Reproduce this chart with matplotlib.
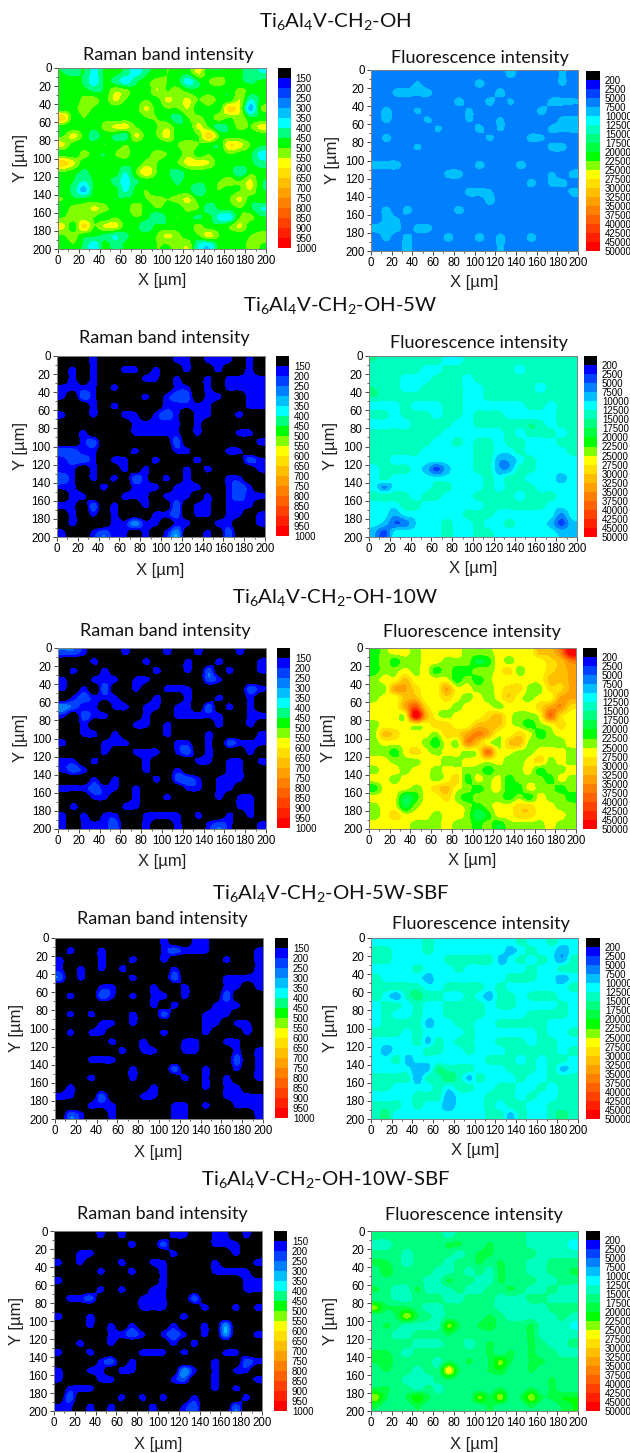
import numpy as np
from matplotlib import pyplot as plt
from matplotlib.colors import ListedColormap, BoundaryNorm

plt.rcParams['font.family'] = ['Liberation Sans', 'DejaVu Sans']
plt.rcParams['mathtext.default'] = 'regular'

# maps on a 10 um grid, rows y=5..195, columns x=5..195
# raman_oh in units of 10 counts, other raman maps are band codes (see raman_codes)
raman_oh = [
    [45,43,45,38,46,47,43,37,44,47,50,48,47,56,47,46,49,46,43,40],
    [47,48,44,37,46,43,37,44,48,52,50,47,37,45,50,54,47,46,44,46],
    [47,49,47,44,46,54,52,46,46,55,50,52,48,46,47,46,46,52,48,46],
    [47,46,52,52,48,56,50,47,50,48,56,53,56,50,54,48,47,55,40,46],
    [47,48,53,49,47,47,46,48,56,48,50,50,55,46,48,47,63,55,33,50],
    [63,47,50,46,48,46,47,46,50,50,47,42,50,52,48,53,50,54,46,46],
    [47,46,48,46,52,56,57,50,47,50,54,47,46,56,50,42,46,52,50,57],
    [50,57,48,43,47,44,42,56,48,50,57,47,47,50,64,50,47,48,46,46],
    [56,47,46,47,50,47,50,47,46,47,47,50,54,50,47,46,60,57,50,46],
    [47,46,52,47,45,50,52,47,48,52,50,47,54,47,50,46,50,48,46,38],
    [64,56,47,46,47,47,47,46,52,50,47,50,57,57,55,47,47,47,46,42],
    [50,47,44,47,46,48,40,50,60,50,46,43,47,48,47,46,47,40,48,47],
    [47,45,40,46,47,43,38,44,47,47,47,44,47,46,47,50,52,50,56,46],
    [47,43,33,47,46,47,39,47,50,46,47,47,47,40,47,50,48,50,55,46],
    [50,46,47,47,47,45,46,47,50,52,50,52,56,48,47,47,50,56,47,48],
    [47,52,52,56,52,47,46,55,47,50,48,47,52,50,42,46,47,50,46,40],
    [50,53,52,50,47,50,47,50,47,40,46,50,47,44,47,38,37,50,52,46],
    [56,47,62,50,56,57,48,47,40,47,46,48,47,52,47,47,50,56,47,47],
    [50,52,47,46,44,40,44,47,48,50,56,52,47,50,57,50,47,46,50,52],
    [46,50,44,37,47,42,46,47,46,50,50,52,54,40,37,47,48,47,52,50],
]
raman_5w = [
    [2,2,2,3,2,2,2,2,2,2,2,3,3,2,3,3,3,2,3,2],
    [2,3,2,3,2,2,3,3,2,3,2,2,3,2,2,3,2,2,3,2],
    [2,3,2,3,2,2,2,2,3,3,2,3,2,2,3,2,3,3,3,3],
    [3,3,3,3,2,3,2,2,2,2,2,3,3,2,3,2,3,3,3,3],
    [3,2,4,3,2,2,2,2,3,2,3,4,4,2,3,3,2,2,3,3],
    [2,2,2,3,2,3,2,2,2,2,3,3,3,3,3,2,2,2,3,3],
    [3,2,2,3,2,2,3,3,2,3,4,3,2,3,3,2,2,3,2,2],
    [2,2,2,2,2,2,2,3,3,3,3,3,2,3,2,2,2,2,2,2],
    [2,2,3,2,2,2,2,3,3,3,3,3,2,3,2,2,2,3,3,2],
    [2,2,3,4,2,2,2,2,2,2,2,4,2,2,2,2,2,2,2,3],
    [4,4,3,3,2,2,2,3,2,2,2,3,3,2,2,2,3,3,2,2],
    [3,4,4,3,2,3,3,2,2,3,2,2,2,3,2,2,2,2,4,3],
    [3,3,2,3,2,2,3,2,3,2,2,2,3,2,3,2,2,2,2,3],
    [4,3,2,3,2,3,2,4,3,2,3,2,3,2,2,2,3,3,2,2],
    [3,3,2,2,3,2,2,3,3,3,2,3,3,3,2,2,3,4,3,2],
    [2,3,3,2,2,2,3,3,3,2,3,3,3,2,3,2,3,4,3,3],
    [3,3,2,4,2,3,2,2,3,2,2,4,2,3,3,2,3,3,3,2],
    [2,3,2,3,2,3,2,2,2,3,3,4,2,3,3,2,3,3,2,3],
    [2,3,2,2,2,3,3,5,3,3,2,3,3,2,2,3,3,2,2,3],
    [3,2,2,3,4,3,3,2,3,2,3,5,2,2,3,2,4,2,2,2],
]
raman_10w = [
    [4,4,3,2,2,2,3,2,2,2,3,2,2,3,2,2,2,3,2,2],
    [2,2,2,3,2,2,2,2,3,2,2,2,3,2,2,3,2,2,2,3],
    [2,3,2,2,3,2,2,2,2,3,2,2,3,2,4,2,3,2,2,3],
    [3,2,2,3,3,3,2,3,3,2,2,2,2,2,4,3,2,2,2,2],
    [3,2,3,2,4,2,2,3,2,2,3,3,3,2,2,2,2,2,4,3],
    [2,3,4,3,3,3,2,2,2,3,2,2,3,2,2,3,2,2,3,2],
    [5,4,3,3,2,3,3,2,3,3,2,3,3,2,4,2,3,2,3,2],
    [3,2,4,3,3,2,2,2,3,2,2,3,3,3,3,3,2,2,3,3],
    [2,2,3,2,2,2,2,3,3,2,3,2,2,2,2,3,2,2,3,2],
    [2,2,3,3,2,3,2,2,2,2,3,2,2,2,3,2,2,2,2,3],
    [3,2,2,2,3,3,3,2,2,2,2,3,3,2,3,2,4,3,3,3],
    [2,2,2,2,3,2,2,3,3,3,2,3,4,2,3,2,2,2,3,2],
    [3,3,2,3,2,2,2,2,3,2,2,2,2,3,3,2,3,3,2,3],
    [3,4,3,2,2,2,2,2,3,2,2,3,2,2,2,2,3,3,2,2],
    [2,2,2,3,2,3,2,2,2,3,2,4,4,3,2,3,3,3,2,2],
    [3,3,3,4,3,3,2,3,2,2,2,2,3,3,2,3,3,2,2,2],
    [2,2,2,3,3,2,2,3,2,2,3,2,2,2,2,3,2,3,3,2],
    [2,3,2,2,2,2,3,3,2,2,2,2,2,2,2,2,2,3,3,2],
    [3,2,3,2,3,3,2,2,3,3,3,3,2,3,2,2,3,2,3,2],
    [3,2,3,3,3,4,2,2,3,2,2,3,2,2,3,4,3,2,2,3],
]
raman_5w_sbf = [
    [2,2,2,2,2,2,2,2,2,2,3,2,2,3,3,2,2,2,2,2],
    [2,3,2,2,3,2,2,2,2,2,3,4,3,3,3,2,2,2,2,3],
    [3,2,2,2,3,2,2,3,2,2,3,2,2,2,2,2,3,2,2,3],
    [3,2,3,2,3,2,3,2,2,2,2,3,2,2,2,2,2,2,2,3],
    [4,2,3,2,2,2,2,3,2,2,2,4,2,2,2,2,3,3,3,3],
    [2,2,2,2,3,3,2,2,2,3,2,2,3,2,2,2,3,3,2,3],
    [2,3,2,2,4,3,2,3,2,3,3,2,3,2,2,2,4,2,2,2],
    [2,2,2,2,2,2,2,2,2,3,2,3,2,2,2,3,3,3,2,2],
    [2,3,2,3,2,2,2,3,2,2,4,2,2,2,3,3,3,2,2,2],
    [2,2,2,2,3,3,2,3,2,2,2,2,2,2,3,3,2,3,3,2],
    [2,3,2,3,3,2,2,2,2,2,3,2,2,2,3,2,2,2,3,2],
    [2,2,2,2,2,3,2,2,3,2,2,2,3,3,2,2,3,3,2,2],
    [2,2,2,2,2,2,3,2,3,3,2,2,3,3,2,2,2,3,2,3],
    [2,2,2,3,3,3,2,2,2,2,2,2,2,2,2,2,2,4,2,3],
    [2,2,2,2,2,2,2,3,2,2,2,4,2,2,3,2,2,3,2,3],
    [2,2,2,3,2,2,2,3,2,2,2,2,3,2,3,2,3,2,2,3],
    [2,3,2,2,2,2,2,2,2,3,2,2,2,2,3,2,3,3,2,2],
    [3,3,2,2,4,2,2,2,3,3,2,2,2,2,2,2,3,3,3,3],
    [2,2,2,3,3,3,2,2,2,2,2,3,3,2,3,2,2,3,3,3],
    [2,4,3,2,2,3,2,2,2,2,2,3,3,2,2,2,2,2,2,3],
]
raman_10w_sbf = [
    [2,2,2,2,3,2,3,2,2,2,2,3,3,2,2,3,3,2,3,2],
    [2,2,2,2,2,2,2,3,2,2,4,2,2,2,2,3,3,3,2,2],
    [2,2,3,3,2,2,2,2,2,2,2,3,2,2,2,2,2,3,2,2],
    [3,2,3,2,2,2,3,2,2,3,3,2,2,2,2,3,2,2,2,3],
    [2,2,2,2,3,2,2,3,2,2,3,2,2,2,2,3,3,3,3,2],
    [3,2,2,2,2,2,2,2,2,2,3,2,2,2,2,2,2,2,3,3],
    [2,2,2,2,3,2,3,2,2,3,3,2,2,2,2,2,2,2,3,3],
    [2,3,3,4,2,2,2,2,3,3,3,2,2,4,2,2,2,2,2,2],
    [2,2,2,2,2,2,2,2,3,3,3,2,2,2,3,2,2,3,2,3],
    [3,2,2,3,2,2,2,2,2,2,2,2,3,2,2,2,2,2,2,2],
    [2,2,2,3,2,3,2,3,2,2,2,3,2,2,3,2,5,2,2,2],
    [2,2,2,2,2,3,3,4,3,2,3,4,3,2,3,2,5,2,2,3],
    [2,2,3,2,2,3,2,2,2,2,2,3,2,3,2,2,2,2,2,2],
    [3,2,2,3,2,2,2,2,3,3,3,2,3,2,2,2,3,3,2,2],
    [2,2,2,2,3,4,2,3,2,2,2,2,2,2,2,3,2,2,4,3],
    [3,2,2,3,3,2,3,3,2,2,2,2,5,3,2,3,2,3,3,2],
    [3,2,2,2,3,3,2,2,2,2,2,3,4,2,2,3,2,2,2,3],
    [2,3,3,3,2,2,2,2,2,2,2,2,2,2,2,3,2,3,2,2],
    [2,4,2,2,2,2,3,2,3,2,3,2,2,3,2,2,2,2,3,2],
    [3,3,2,3,2,3,2,2,2,3,2,2,3,4,2,2,2,4,2,2],
]
# counts for each band code: code 2 is the black band, code 3 the first blue band
raman_codes = [0, 0, 85, 175, 235, 290]

# fluorescence maps in units of 1000 counts
fluor_oh = [
    [6,6,6,6,6,6,6,6,6,6,6,6,6,8.5,6,6,6,6,8,6],
    [6,6,6,6,8,6,6,6,6,6,8.5,6,6,6,6,6,6,6,8,6],
    [6,6,8.5,8.5,8.5,8.5,6,6,6,6,6,6,8.5,6,6,6,6,6,6,6],
    [6,6,6,6,6,6,6,6,8.5,6,6,8.5,6,8,6,6,6,8.5,8.5,8],
    [6,8.5,6,6,8,6,6,6,6,8,6,6,6,6,6,6,8.5,6,6,6],
    [6,8.5,6,6,6,8,6,6,6,8,6,6,8,6,6,6,6,6,8.5,8.5],
    [6,6,6,6,6,6,8,6,6,6,8.5,6,8,6,6,6,6,8.5,8.5,8.5],
    [6,8.5,6,6,6,6,6,6,6,6,6,8,6,6,6,8.5,8,6,6,6],
    [6,6,6,6,8,6,6,6,6,6,6,6,6,6,6,6,6,8.5,8.5,6],
    [6,6,6,6,6,6,6,6,6,6,6,6,6,6,6,6,6,6,6,6],
    [8.5,8.5,8.5,6,6,6,6,6,6,6,8.5,6,6,6,8.5,6,6,6,6,6],
    [6,6,6,6,6,6,6,8.5,8.5,6,6,6,6,6,6,6,6,8,6,8.5],
    [6,6,6,6,6,6,6,6,6,6,6,6,6,6,6,8.5,6,8.5,8.5,6],
    [6,6,6,6,6,6,6,6,6,8.5,8.5,8,6,6,6,6,6,6,6,8.5],
    [6,6,6,6,6,6,6,6,6,6,6,8.5,6,6,6,6,6,6,6,6],
    [6,8.5,6,8.5,6,6,6,6,8.5,6,6,6,6,6,6,6,6,6,6,6],
    [6,8.5,8,6,6,6,6,6,6,6,6,6,6,6,6,6,6,6,6,6],
    [8.5,8.5,8.5,6,8.5,8.5,6,6,6,6,6,6,6,6,6,6,6,6,6,6],
    [6,8.5,6,8.5,6,6,6,8.5,6,6,8.5,6,8.5,6,6,8.5,6,6,6,6],
    [6,6,6,8.5,6,6,6,6,6,6,6,6,8,6,6,6,6,6,6,6],
]
fluor_5w = [
    [15,14,14,14,14,14,14,11,11,14,14,14,14,14,14,14,14,14,14,14],
    [14,14,14,14,14,11,11,14,14,14,14,14,14,14,11,14,14,14,15,14],
    [14,14,14,11,11,11,14,14,14,11,14,14,14,14,14,14,14,14,14,14],
    [15,14,14,11,11,14,14,14,14,11,11,14,14,14,14,14,11,14,14,14],
    [15,14,14,14,14,14,14,14,14,11,11,14,14,14,14,14,14,14,14,14],
    [11,11,11,14,11,11,11,14,14,11,11,11,11,11,11,14,14,11,14,14],
    [14,14,11,14,14,14,11,14,14,11,14,14,14,11,11,11,11,11,14,14],
    [11,11,11,11,14,14,14,14,11,11,14,14,14,14,14,15,14,11,14,14],
    [14,14,14,14,14,14,14,11,11,11,11,11,11,14,11,14,14,14,11,14],
    [14,14,14,14,14,14,11,11,14,11,14,14,11,14,14,11,11,11,14,14],
    [14,14,14,14,14,11,11,11,11,11,14,14,11,11,14,11,11,11,11,14],
    [14,14,11,11,11,11,11,11,11,11,14,14,8,8,11,14,11,11,11,11],
    [11,14,14,14,11,9,4,9,11,11,14,14,8,8,14,14,11,11,11,11],
    [11,14,11,11,11,11,11,11,11,11,11,14,11,14,14,11,11,11,9,11],
    [11,7,11,11,11,11,14,14,11,11,11,14,11,14,14,14,11,11,11,11],
    [14,14,14,14,11,14,14,11,11,11,14,14,14,14,11,14,14,14,11,11],
    [11,11,11,14,14,11,11,11,11,11,11,14,14,14,14,14,14,11,11,11],
    [11,11,8,11,11,11,11,11,11,14,14,14,11,11,11,11,11,11,7,11],
    [11,9,5,6,10,11,11,14,11,11,14,11,11,14,11,11,11,9,4,9],
    [8,4,11,11,11,11,11,14,11,11,14,14,11,11,11,11,11,11,9,9],
]
fluor_10w = [
    [21,24,26,26,24,26,26,26,26,24,24,24,26,26,26,26,31,31,36,48],
    [21,24,21,24,24,26,26,24,24,24,19,21,26,24,26,26,26,29,31,36],
    [21,24,24,26,24,26,21,24,21,21,24,24,26,29,24,26,26,29,31,33],
    [24,26,26,31,26,26,26,26,21,24,21,24,26,26,26,26,26,31,31,33],
    [24,24,33,33,29,26,26,33,26,26,24,24,26,29,29,24,24,29,29,33],
    [24,26,26,31,31,26,26,29,26,24,26,24,26,30,26,24,26,26,33,33],
    [26,26,26,33,40,29,26,26,24,26,26,26,24,26,26,26,29,33,35,29],
    [26,26,26,26,48,33,26,24,26,26,26,29,31,26,24,24,26,38,29,26],
    [24,26,26,26,26,26,29,29,26,26,31,31,31,26,24,21,24,26,29,26],
    [24,31,29,26,26,26,24,29,29,33,36,33,26,26,29,26,21,24,26,26],
    [24,26,26,26,26,24,21,26,24,35,31,26,24,30,32,24,24,24,24,26],
    [24,24,21,26,29,26,24,26,26,24,26,38,26,26,24,24,26,26,26,24],
    [26,26,24,24,24,26,26,24,24,26,26,26,26,24,24,26,29,24,26,24],
    [24,26,26,24,26,26,24,26,26,24,24,21,24,24,24,26,21,24,24,26],
    [26,26,24,26,26,26,24,26,29,21,26,24,26,21,24,24,24,21,26,24],
    [21,26,26,26,24,26,29,31,26,24,21,24,26,21,21,26,24,24,21,24],
    [26,26,26,18,21,26,26,29,24,21,24,24,24,21,24,21,26,24,24,21],
    [24,26,26,19,24,26,26,26,26,24,21,24,26,26,29,29,26,26,24,24],
    [24,26,29,26,26,26,24,26,26,24,18,21,26,26,29,29,26,26,26,24],
    [26,26,26,26,24,24,24,26,24,24,21,24,20,24,24,24,24,26,24,24],
]
fluor_5w_sbf = [
    [11,11,11,11,11,14,11,11,11,11,11,11,11,11,14,11,11,14,11,11],
    [14,14,11,11,11,14,11,11,11,11,11,11,11,9,11,14,11,11,8,11],
    [14,14,11,11,11,11,11,14,14,14,14,14,9,11,14,11,14,11,8,14],
    [11,11,11,11,14,11,11,11,14,11,11,11,11,11,11,14,11,11,14,14],
    [14,11,11,11,11,9,11,11,11,11,11,11,11,14,14,14,11,11,8,11],
    [14,14,14,14,14,11,11,14,14,14,14,11,14,11,11,11,11,11,11,14],
    [14,11,8,14,16,14,14,11,11,14,11,9,14,14,11,14,14,14,11,11],
    [11,14,14,11,14,11,11,14,14,14,14,11,14,14,11,11,11,11,14,11],
    [11,14,11,11,14,11,11,14,14,14,14,11,11,11,11,14,14,14,14,11],
    [11,14,14,14,14,9,11,11,14,14,11,11,14,14,14,14,14,11,11,11],
    [14,14,14,11,14,11,11,11,11,14,11,11,11,11,11,11,14,11,11,14],
    [11,11,11,11,14,9,14,11,14,14,11,11,14,14,14,11,14,14,11,11],
    [11,9,11,11,11,14,14,11,11,14,11,11,11,14,14,14,14,14,11,14],
    [11,11,14,9,11,11,11,11,11,11,11,14,14,14,11,14,11,14,14,11],
    [11,11,11,11,8,9,16,14,14,14,11,11,11,14,14,14,11,14,9,11],
    [14,14,14,14,8,14,14,17,14,9,14,11,11,11,14,11,11,14,14,14],
    [14,14,11,11,11,11,14,11,14,14,11,11,14,14,11,11,14,11,14,14],
    [11,11,11,11,14,14,14,8,11,11,11,14,14,14,11,14,11,11,14,14],
    [14,14,14,11,14,11,11,8,11,11,11,14,11,14,14,11,11,14,14,14],
    [14,16,11,11,11,11,11,11,11,11,11,14,14,9,14,11,11,14,16,14],
]
fluor_10w_sbf = [
    [16,16,16,16,16,16,16,14,16,16,16,16,16,16,16,14,14,14,14,14],
    [14,14,16,16,16,16,16,18,18,16,16,18,16,16,16,14,14,14,14,11],
    [16,16,16,14,16,16,16,16,14,16,18,18,16,16,16,16,14,14,14,14],
    [18,18,16,14,16,16,16,14,16,16,18,16,18,16,16,14,14,16,16,16],
    [16,20,16,16,16,16,14,14,16,14,16,14,18,16,16,14,14,16,16,18],
    [16,16,16,16,16,14,14,18,16,16,14,14,18,16,16,16,14,14,16,16],
    [18,16,14,14,18,14,14,14,16,14,14,16,16,18,16,14,14,16,14,14],
    [16,16,14,14,16,16,16,14,14,16,16,16,14,14,14,16,16,14,14,14],
    [23,18,18,18,16,14,14,16,16,16,16,16,14,14,14,14,14,16,16,16],
    [16,16,18,24,18,16,14,16,16,16,16,18,16,14,14,14,14,14,16,14],
    [16,18,16,14,14,14,14,23,18,16,18,20,16,16,16,18,14,14,14,12],
    [16,16,14,14,16,16,16,18,16,16,16,16,16,16,16,18,14,14,14,14],
    [16,16,16,16,14,14,14,16,16,14,16,18,16,16,16,18,16,14,14,16],
    [18,18,16,14,16,16,16,16,16,16,16,18,16,18,16,18,16,16,14,14],
    [18,20,16,16,16,16,14,18,16,18,16,18,23,18,16,18,18,16,16,16],
    [16,18,16,16,14,16,16,27,18,16,16,18,20,16,16,18,16,16,16,16],
    [16,16,16,14,14,14,16,18,16,16,16,16,16,16,16,16,16,18,16,16],
    [18,18,16,16,14,16,14,16,16,16,16,16,18,16,16,18,16,18,16,16],
    [24,18,16,18,22,18,16,16,16,16,23,18,24,16,18,24,18,18,20,20],
    [18,16,16,16,18,16,16,16,16,16,16,18,16,16,16,18,16,16,18,20],
]

raman_levels = [150, 200, 250, 300, 350, 400, 450, 500, 550, 600, 650, 700,
                750, 800, 850, 900, 950, 1000]
fluor_levels = [200, 2500, 5000, 7500, 10000, 12500, 15000, 17500, 20000, 22500,
                25000, 27500, 30000, 32500, 35000, 37500, 40000, 42500, 45000,
                50000]

raman_colors = ['#000000', '#0000ff', '#0040ff', '#0080ff', '#00bfff', '#00ffff',
                '#00ff80', '#00ff00', '#80ff00', '#ffff00', '#ffdf00', '#ffbf00',
                '#ff9f00', '#ff8000', '#ff6000', '#ff4000', '#ff2000', '#ff0000']
fluor_colors = ['#000000', '#0000ff', '#0040ff', '#0080ff', '#00bfff', '#00ffff',
                '#00ffbf', '#00ff80', '#00ff40', '#00ff00', '#80ff00', '#ffff00',
                '#ffdf00', '#ffbf00', '#ff9f00', '#ff8000', '#ff6000',
                '#ff4000', '#ff2000', '#ff0000']

titles = ['Ti$_6$Al$_4$V-CH$_2$-OH', 'Ti$_6$Al$_4$V-CH$_2$-OH-5W',
          'Ti$_6$Al$_4$V-CH$_2$-OH-10W', 'Ti$_6$Al$_4$V-CH$_2$-OH-5W-SBF',
          'Ti$_6$Al$_4$V-CH$_2$-OH-10W-SBF']

W, H = 630, 1453
fig = plt.figure(figsize=(W / 100, H / 100), dpi=100)


def rect(x0, y0, x1, y1):
    return [x0 / W, 1 - y1 / H, (x1 - x0) / W, (y1 - y0) / H]


def px_text(x, y, s, **kw):
    fig.text(x / W, 1 - y / H, s, ha='center', va='center', **kw)


def panel(z, levels, colors, box, cbox, title, title_xy, xlabel_xy, ylabel_x):
    ax = fig.add_axes(rect(*box))
    bounds = [0] + levels
    cmap = ListedColormap(colors)
    norm = BoundaryNorm(bounds, cmap.N, clip=True)
    im = ax.imshow(z, cmap=cmap, norm=norm, extent=(0, 200, 200, 0),
                   aspect='auto', interpolation='catrom', interpolation_stage='data')
    ax.set_xticks(np.arange(0, 201, 20))
    ax.set_yticks(np.arange(0, 201, 20))
    ax.set_xticks(np.arange(0, 201, 10), minor=True)
    ax.set_yticks(np.arange(0, 201, 10), minor=True)
    ax.tick_params(which='major', length=3, width=0.7, labelsize=8.3, pad=1.5, color='#444444')
    ax.tick_params(which='minor', length=1.5, width=0.6, color='#444444')
    for s in ax.spines.values():
        s.set_linewidth(0.7)
        s.set_color('#808080')

    cax = fig.add_axes(rect(*cbox))
    cb = fig.colorbar(im, cax=cax, spacing='uniform', ticks=levels, drawedges=False)
    cb.minorticks_off()
    cax.invert_yaxis()
    cax.tick_params(which='both', length=0, labelsize=7, pad=3.5)
    cb.outline.set_visible(False)

    px_text(title_xy[0], title_xy[1], title, fontsize=13, family=['Lato', 'DejaVu Sans'], color='#111111')
    px_text(xlabel_xy[0], xlabel_xy[1], 'X [\u00b5m]', fontsize=12, color='#222222')
    px_text(ylabel_x, (box[1] + box[3]) / 2, 'Y [\u00b5m]', fontsize=12, rotation=90, color='#222222')


raman_lut = np.array(raman_codes)
# row 1
panel(np.array(raman_oh) * 10, raman_levels, raman_colors, (58, 68, 266, 249), (277.5, 68, 290.5, 248),
      'Raman band intensity', (168, 55), (162, 280), 21)
panel(np.array(fluor_oh) * 1000, fluor_levels, fluor_colors, (371, 70, 578, 251), (586, 71, 600, 251),
      'Fluorescence intensity', (480, 58), (474, 283), 332)
# row 2
panel(raman_lut[raman_5w], raman_levels, raman_colors, (57, 356, 265, 537), (276, 356, 289, 536),
      'Raman band intensity', (164, 338), (160, 570), 20)
panel(np.array(fluor_5w) * 1000, fluor_levels, fluor_colors, (369, 356, 577, 537), (584, 356, 597, 537),
      'Fluorescence intensity', (479, 343), (473, 569), 330)
# row 3
panel(raman_lut[raman_10w], raman_levels, raman_colors, (58, 648, 266, 829), (277, 648, 290, 828),
      'Raman band intensity', (165, 631), (162, 862), 20)
panel(np.array(fluor_10w) * 1000, fluor_levels, fluor_colors, (369, 648, 576, 829), (583, 648, 597, 829),
      'Fluorescence intensity', (472, 632), (472, 861), 329)
# row 4
panel(raman_lut[raman_5w_sbf], raman_levels, raman_colors, (55, 938, 263, 1119), (275, 938, 288, 1118),
      'Raman band intensity', (162, 919), (158, 1152), 17)
panel(np.array(fluor_5w_sbf) * 1000, fluor_levels, fluor_colors, (371, 938, 578, 1119), (586, 938, 600, 1119),
      'Fluorescence intensity', (481, 924), (475, 1151), 331)
# row 5
panel(raman_lut[raman_10w_sbf], raman_levels, raman_colors, (54, 1231, 262, 1411), (274, 1231, 287, 1411),
      'Raman band intensity', (162, 1214), (158, 1445), 17)
panel(np.array(fluor_10w_sbf) * 1000, fluor_levels, fluor_colors, (371, 1231, 578, 1411), (586, 1231, 600, 1411),
      'Fluorescence intensity', (474, 1215), (474, 1445), 331)

for x, y, t in zip([335, 340, 335, 331, 326], [22, 306, 597, 893, 1180], titles):
    px_text(x, y, t, fontsize=14.7, family=['Lato', 'DejaVu Sans'], color='#111111')

fig.savefig('out.png', dpi=100)
